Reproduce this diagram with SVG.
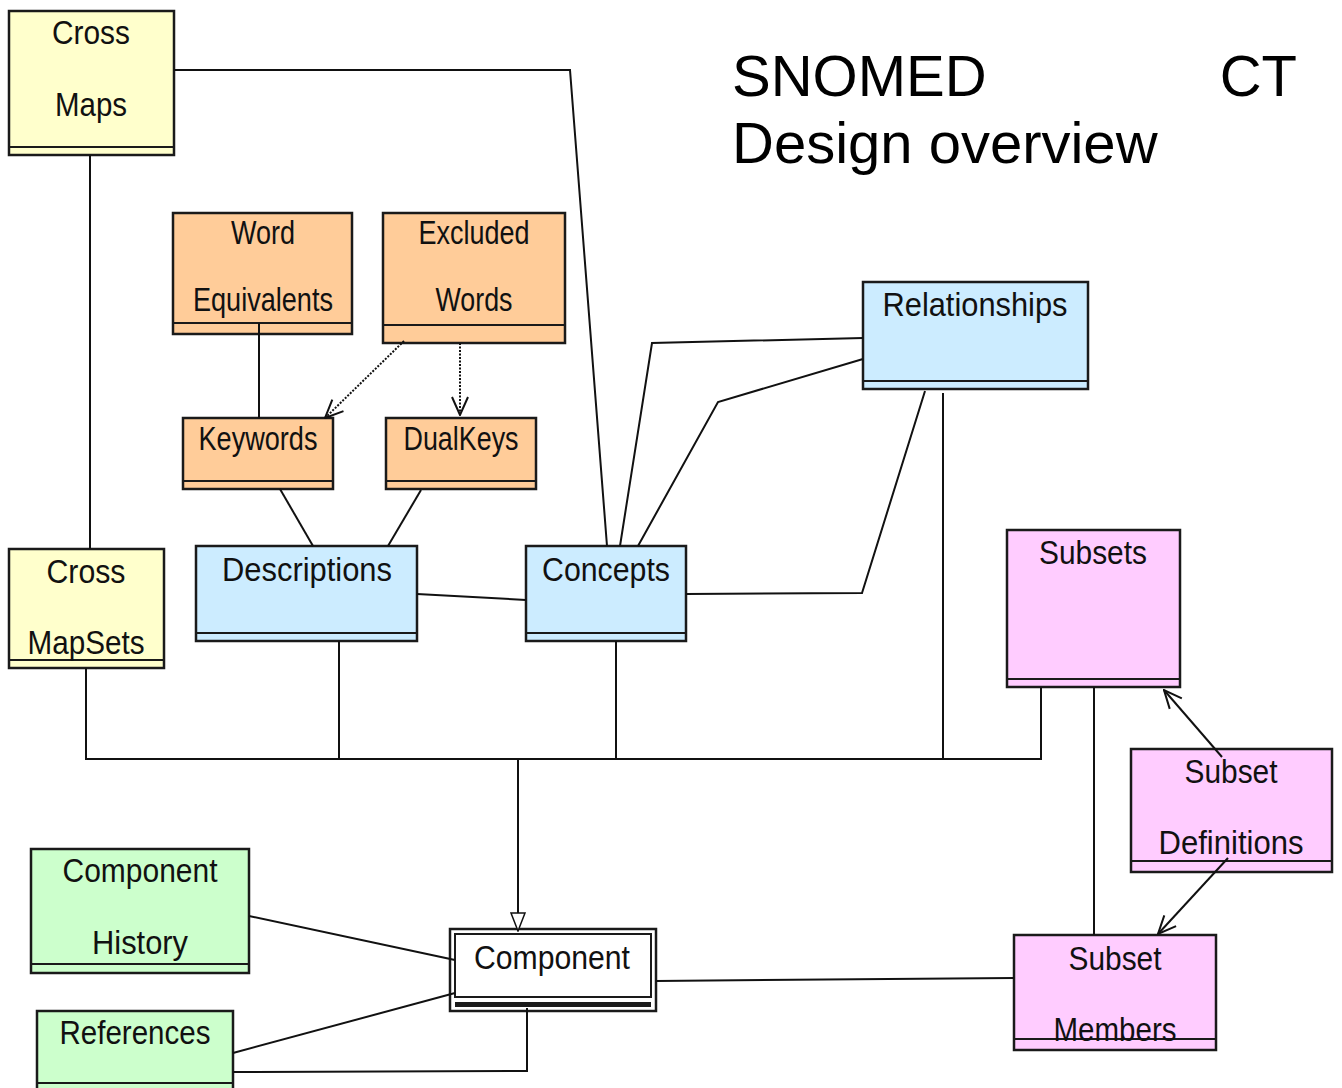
<svg xmlns="http://www.w3.org/2000/svg" width="1342" height="1088" viewBox="0 0 1342 1088">
<style>
.box{stroke:#1a1a1a;stroke-width:2.5}
.div{stroke:#1a1a1a;stroke-width:2;fill:none}
.y{fill:#FFFFCC}.o{fill:#FFCC99}.b{fill:#CCECFF}.p{fill:#FFCCFF}.g{fill:#CCFFCC}
.t{font-family:"Liberation Sans Narrow","Arial Narrow","Liberation Sans",sans-serif;font-size:34px;fill:#111;text-anchor:middle}
.title{font-family:"Liberation Sans",Arial,sans-serif;font-size:58px;fill:#000}
.c{stroke:#111;stroke-width:2;fill:none}
.d{stroke-dasharray:2,1.5}
</style>
<defs>
<marker id="open" viewBox="0 0 20 20" refX="19" refY="10" markerWidth="20" markerHeight="20" markerUnits="userSpaceOnUse" orient="auto">
<path d="M1,2 L19,10 L1,18" fill="none" stroke="#111" stroke-width="2"/>
</marker>
<marker id="tri" viewBox="0 0 20 16" refX="19" refY="8" markerWidth="20" markerHeight="16" markerUnits="userSpaceOnUse" orient="auto">
<path d="M1,1 L19,8 L1,15 Z" fill="#fff" stroke="#111" stroke-width="1.5"/>
</marker>
</defs>
<g id="title">
<text class="title" x="732" y="96">SNOMED</text>
<text class="title" x="1297" y="96" text-anchor="end">CT</text>
<text class="title" x="732" y="163">Design overview</text>
</g>
<g id="crossmaps"><rect class="box y" x="9" y="11" width="165" height="144"/><line class="div" x1="9" y1="147" x2="174" y2="147"/>
<text class="t" x="91" y="44" textLength="78" lengthAdjust="spacingAndGlyphs">Cross</text>
<text class="t" x="91" y="116" textLength="72" lengthAdjust="spacingAndGlyphs">Maps</text></g>
<g id="wordequivalents"><rect class="box o" x="173" y="213" width="179" height="121"/><line class="div" x1="173" y1="323" x2="352" y2="323"/>
<text class="t" x="263" y="244" textLength="64" lengthAdjust="spacingAndGlyphs">Word</text>
<text class="t" x="263" y="311" textLength="140" lengthAdjust="spacingAndGlyphs">Equivalents</text></g>
<g id="excludedwords"><rect class="box o" x="383" y="213" width="182" height="130"/><line class="div" x1="383" y1="325" x2="565" y2="325"/>
<text class="t" x="474" y="244" textLength="111" lengthAdjust="spacingAndGlyphs">Excluded</text>
<text class="t" x="474" y="311" textLength="77" lengthAdjust="spacingAndGlyphs">Words</text></g>
<g id="keywords"><rect class="box o" x="183" y="418" width="150" height="71"/><line class="div" x1="183" y1="481" x2="333" y2="481"/>
<text class="t" x="258" y="450" textLength="119" lengthAdjust="spacingAndGlyphs">Keywords</text></g>
<g id="dualkeys"><rect class="box o" x="386" y="418" width="150" height="71"/><line class="div" x1="386" y1="481" x2="536" y2="481"/>
<text class="t" x="461" y="450" textLength="115" lengthAdjust="spacingAndGlyphs">DualKeys</text></g>
<g id="descriptions"><rect class="box b" x="196" y="546" width="221" height="95"/><line class="div" x1="196" y1="633" x2="417" y2="633"/>
<text class="t" x="307" y="581" textLength="170" lengthAdjust="spacingAndGlyphs">Descriptions</text></g>
<g id="concepts"><rect class="box b" x="526" y="546" width="160" height="95"/><line class="div" x1="526" y1="633" x2="686" y2="633"/>
<text class="t" x="606" y="581" textLength="128" lengthAdjust="spacingAndGlyphs">Concepts</text></g>
<g id="relationships"><rect class="box b" x="863" y="282" width="225" height="107"/><line class="div" x1="863" y1="381" x2="1088" y2="381"/>
<text class="t" x="975" y="316" textLength="185" lengthAdjust="spacingAndGlyphs">Relationships</text></g>
<g id="crossmapsets"><rect class="box y" x="9" y="549" width="155" height="119"/><line class="div" x1="9" y1="660" x2="164" y2="660"/>
<text class="t" x="86" y="583" textLength="79" lengthAdjust="spacingAndGlyphs">Cross</text>
<text class="t" x="86" y="654" textLength="117" lengthAdjust="spacingAndGlyphs">MapSets</text></g>
<g id="subsets"><rect class="box p" x="1007" y="530" width="173" height="157"/><line class="div" x1="1007" y1="679" x2="1180" y2="679"/>
<text class="t" x="1093" y="564" textLength="108" lengthAdjust="spacingAndGlyphs">Subsets</text></g>
<g id="subsetdefinitions"><rect class="box p" x="1131" y="749" width="201" height="123"/><line class="div" x1="1131" y1="861" x2="1332" y2="861"/>
<text class="t" x="1231" y="783" textLength="93" lengthAdjust="spacingAndGlyphs">Subset</text>
<text class="t" x="1231" y="854" textLength="145" lengthAdjust="spacingAndGlyphs">Definitions</text></g>
<g id="componenthistory"><rect class="box g" x="31" y="849" width="218" height="124"/><line class="div" x1="31" y1="964" x2="249" y2="964"/>
<text class="t" x="140" y="882" textLength="155" lengthAdjust="spacingAndGlyphs">Component</text>
<text class="t" x="140" y="954" textLength="96" lengthAdjust="spacingAndGlyphs">History</text></g>
<g id="references"><rect class="box g" x="37" y="1011" width="196" height="90"/><line class="div" x1="37" y1="1083" x2="233" y2="1083"/>
<text class="t" x="135" y="1044" textLength="151" lengthAdjust="spacingAndGlyphs">References</text></g>
<g id="component"><rect class="box" fill="#fff" x="450" y="929" width="206" height="82"/>
<rect fill="none" stroke="#1a1a1a" stroke-width="2" x="455" y="934" width="196" height="63"/>
<rect fill="#1a1a1a" x="455" y="1002" width="196" height="5"/>
<text class="t" x="552" y="969" textLength="156" lengthAdjust="spacingAndGlyphs">Component</text></g>
<g id="subsetmembers"><rect class="box p" x="1014" y="935" width="202" height="115"/><line class="div" x1="1014" y1="1039" x2="1216" y2="1039"/>
<text class="t" x="1115" y="970" textLength="93" lengthAdjust="spacingAndGlyphs">Subset</text>
<text class="t" x="1115" y="1041" textLength="123" lengthAdjust="spacingAndGlyphs">Members</text></g>
<g id="connectors">
<polyline class="c" points="174,70 570,70 607,546"/>
<line class="c" x1="90" y1="155" x2="90" y2="549"/>
<line class="c" x1="259" y1="323" x2="259" y2="418"/>
<line class="c d" x1="404" y1="341" x2="325" y2="418" marker-end="url(#open)"/>
<line class="c d" x1="460" y1="343" x2="460" y2="415" marker-end="url(#open)"/>
<line class="c" x1="280" y1="489" x2="313" y2="546"/>
<line class="c" x1="421" y1="490" x2="388" y2="546"/>
<line class="c" x1="417" y1="594" x2="526" y2="600"/>
<polyline class="c" points="863,338 652,343 620,546"/>
<polyline class="c" points="863,359 718,402 638,546"/>
<polyline class="c" points="925,391 862,593 686,594"/>
<line class="c" x1="943" y1="393" x2="943" y2="759"/>
<polyline class="c" points="86,668 86,759 1041,759 1041,687"/>
<line class="c" x1="339" y1="641" x2="339" y2="759"/>
<line class="c" x1="616" y1="641" x2="616" y2="759"/>
<line class="c" x1="518" y1="759" x2="518" y2="931" marker-end="url(#tri)"/>
<line class="c" x1="1094" y1="687" x2="1094" y2="935"/>
<line class="c" stroke-width="1.5" x1="1222" y1="757" x2="1164" y2="690" marker-end="url(#open)"/>
<line class="c" stroke-width="1.5" x1="1228" y1="858" x2="1158" y2="934" marker-end="url(#open)"/>
<line class="c" x1="249" y1="916" x2="455" y2="960"/>
<line class="c" x1="233" y1="1053" x2="455" y2="993"/>
<polyline class="c" points="233,1072 527,1071 527,1008"/>
<line class="c" x1="656" y1="981" x2="1014" y2="978"/>
</g>
</svg>
